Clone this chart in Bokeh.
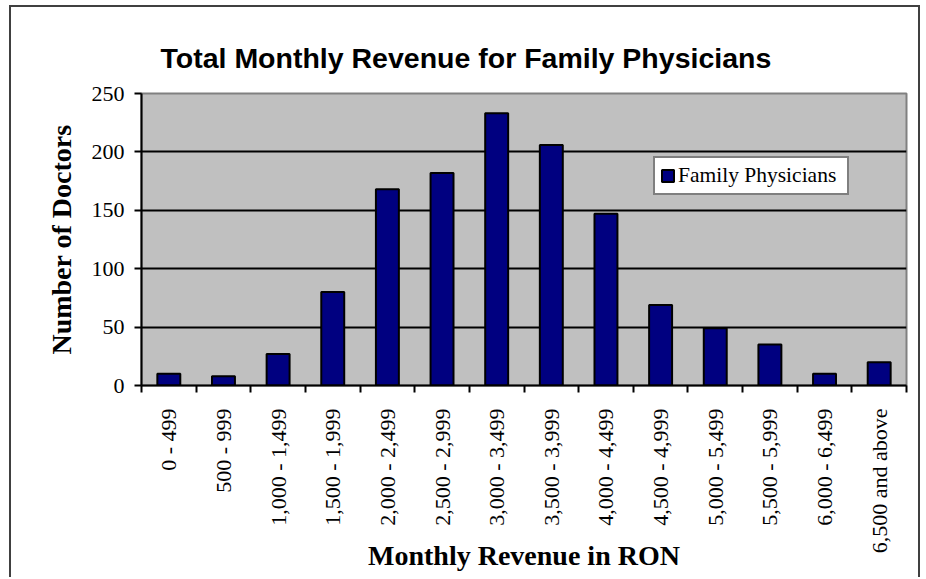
from bokeh.plotting import figure
from bokeh.models import ColumnDataSource, FixedTicker, Range1d, Legend, LegendItem, Title
from bokeh.embed import file_html
from bokeh.resources import INLINE
import math

categories = ["0 - 499", "500 - 999", "1,000 - 1,499", "1,500 - 1,999", "2,000 - 2,499",
              "2,500 - 2,999", "3,000 - 3,499", "3,500 - 3,999", "4,000 - 4,499",
              "4,500 - 4,999", "5,000 - 5,499", "5,500 - 5,999", "6,000 - 6,499",
              "6,500 and above"]
doctors = [10, 8, 27, 80, 168, 182, 233, 206, 147, 69, 49, 35, 10, 20]
y_ticks = [0, 50, 100, 150, 200, 250]
series_name = "Family Physicians"

centers = [i + 0.5 for i in range(len(categories))]
bounds = [float(i) for i in range(len(categories) + 1)]
src = ColumnDataSource(data=dict(x=centers, top=doctors, cat=categories))

p = figure(width=911, height=572, output_backend="svg", toolbar_location=None,
           x_range=Range1d(0, len(categories)), y_range=Range1d(0, 250),
           min_border_left=130, min_border_right=16, min_border_top=86, min_border_bottom=194,
           background_fill_color="#C0C0C0", border_fill_color="white",
           styles={"margin-left": "9px", "margin-top": "5px",
                   "border-top": "2px solid #404040", "border-left": "2px solid #404040",
                   "border-right": "2px solid #404040"})

title = Title(text="Total Monthly Revenue for Family Physicians", align="left", offset=19,
              text_font="Liberation Sans", text_font_size="28.5px", text_font_style="bold",
              text_color="black", standoff=40)
p.add_layout(title, "above")

r = p.vbar(x="x", top="top", width=0.42, source=src, fill_color="#000080",
           line_color="black", line_width=2)

p.outline_line_color = "#808080"
p.outline_line_width = 2

p.xgrid.visible = False
p.ygrid.grid_line_color = "black"
p.ygrid.grid_line_width = 2
p.ygrid.ticker = FixedTicker(ticks=y_ticks)

# y axis
ya = p.yaxis[0]
ya.ticker = FixedTicker(ticks=y_ticks)
ya.axis_line_color = "black"; ya.axis_line_width = 2
ya.major_tick_line_color = "black"; ya.major_tick_line_width = 2
ya.major_tick_out = 7; ya.major_tick_in = 0
ya.minor_tick_line_color = None
ya.major_label_text_font = "Liberation Serif"
ya.major_label_text_font_size = "22px"
ya.major_label_text_color = "black"
ya.major_label_standoff = 10
ya.axis_label = "Number of Doctors"
ya.axis_label_text_font = "Liberation Serif"
ya.axis_label_text_font_size = "28px"
ya.axis_label_text_font_style = "bold"
ya.axis_label_text_color = "black"
ya.axis_label_standoff = 12

# x axis
xa = p.xaxis[0]
xa.ticker = FixedTicker(ticks=centers, minor_ticks=bounds)
xa.major_label_overrides = {c: lab for c, lab in zip(centers, categories)}
xa.major_label_orientation = math.pi / 2
xa.axis_line_color = "black"; xa.axis_line_width = 2
xa.major_tick_line_color = None
xa.major_tick_out = 0; xa.major_tick_in = 0
xa.minor_tick_line_color = "black"; xa.minor_tick_line_width = 2
xa.minor_tick_out = 7; xa.minor_tick_in = 0
xa.major_label_text_font = "Liberation Serif"
xa.major_label_text_font_size = "22px"
xa.major_label_text_color = "black"
xa.major_label_standoff = 16
xa.axis_label = "Monthly Revenue in RON"
xa.axis_label_text_font = "Liberation Serif"
xa.axis_label_text_font_size = "28px"
xa.axis_label_text_font_style = "bold"
xa.axis_label_text_color = "black"
xa.axis_label_standoff = -16

legend = Legend(items=[LegendItem(label=series_name, renderers=[r])],
                location=(512, 190), orientation="vertical",
                label_text_font="Liberation Serif", label_text_font_size="21.5px",
                label_text_color="black", glyph_height=15, glyph_width=15,
                label_standoff=3, label_height=21, label_width=164,
                padding=5, margin=0, spacing=0,
                border_line_color="black", border_line_width=2,
                background_fill_color="white", background_fill_alpha=1.0)
p.add_layout(legend, "center")

open("out.html", "w").write(file_html(p, INLINE))
